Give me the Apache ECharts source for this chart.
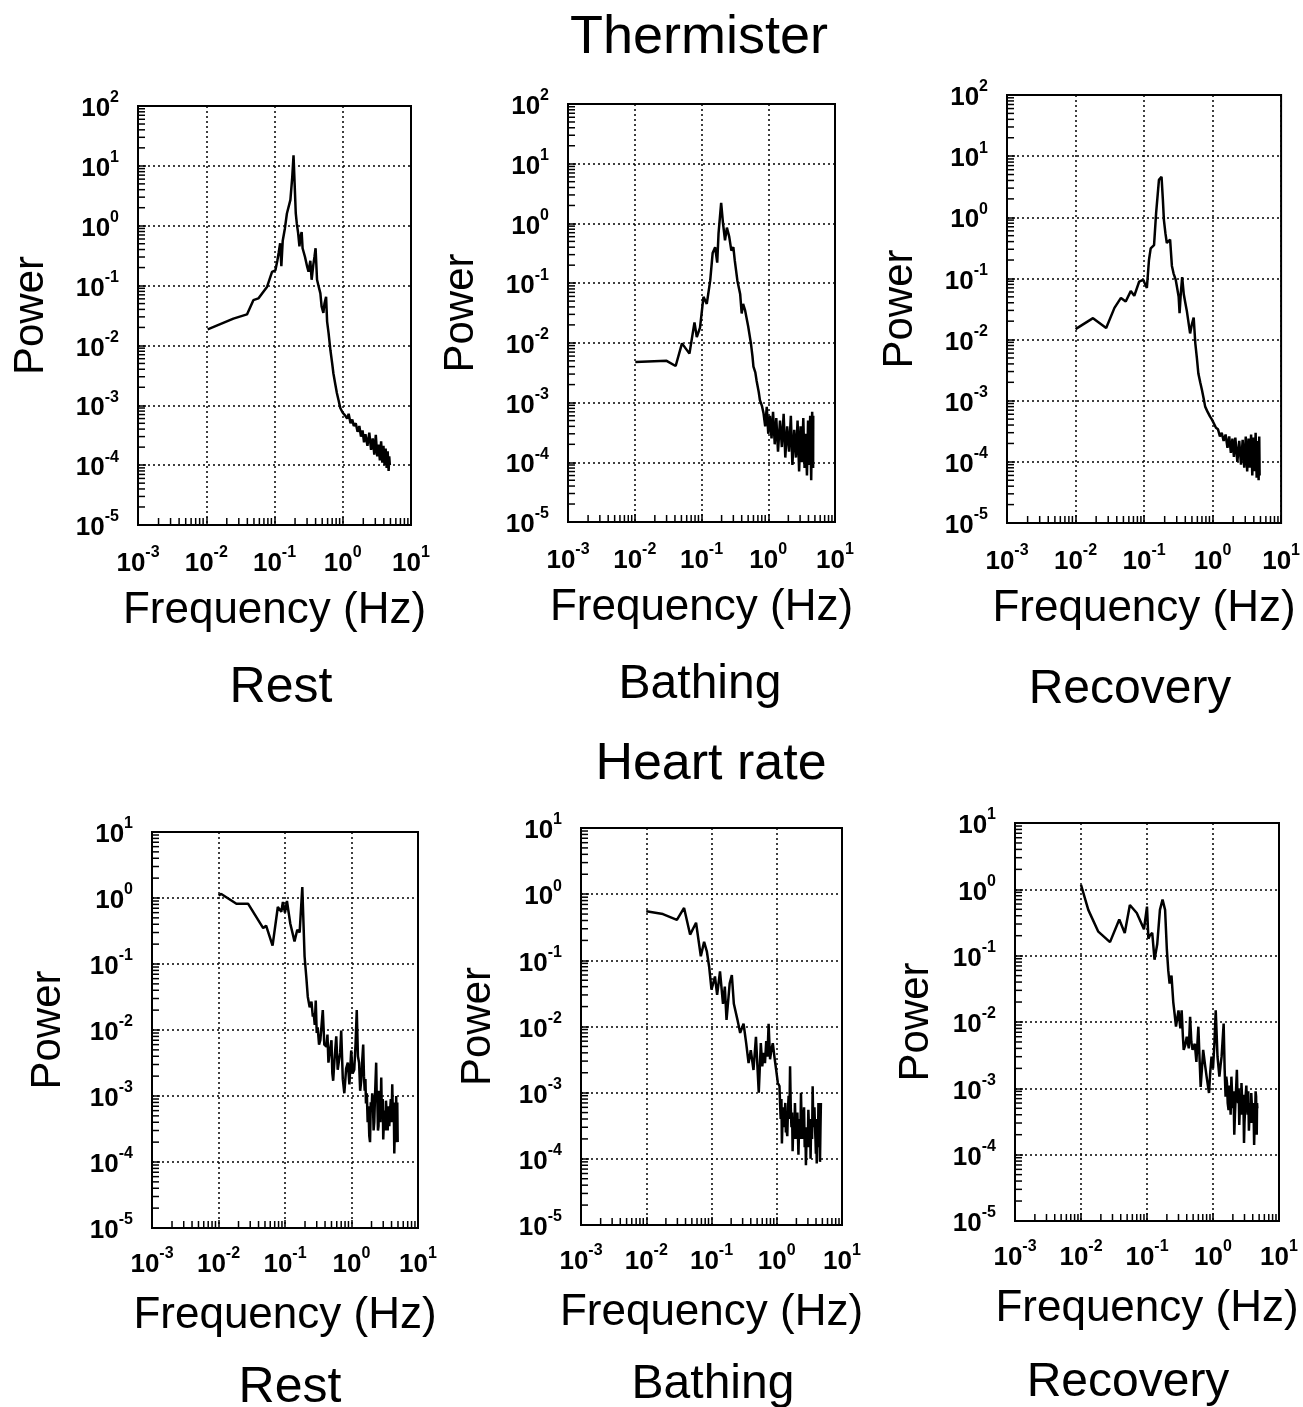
<!DOCTYPE html>
<html>
<head>
<meta charset="utf-8">
<script src="https://cdn.jsdelivr.net/npm/echarts@6/dist/echarts.min.js"></script>
<style>
  html, body { margin: 0; padding: 0; background: #fff; }
  #chart { width: 1303px; height: 1407px; }
</style>
</head>
<body>
<div id="chart"></div>
<script>
// power spectra, [frequency Hz, power]
const thermRest = [[0.0105,0.0186],[0.025,0.028],[0.0395,0.033],[0.049,0.057],[0.058,0.061],[0.078,0.096],[0.092,0.17],[0.103,0.18],[0.11,0.26],[0.115,0.35],[0.121,0.51],[0.126,0.21],[0.132,0.56],[0.142,0.9],[0.152,1.6],[0.171,2.7],[0.182,6.5],[0.19,15],[0.197,5.2],[0.205,1.6],[0.212,1.1],[0.222,0.75],[0.232,0.45],[0.24,0.66],[0.25,0.78],[0.258,0.42],[0.265,0.4],[0.28,0.3],[0.3,0.21],[0.315,0.17],[0.335,0.26],[0.35,0.125],[0.37,0.22],[0.385,0.3],[0.4,0.42],[0.42,0.125],[0.44,0.1],[0.47,0.074],[0.49,0.045],[0.52,0.035],[0.54,0.05],[0.57,0.065],[0.59,0.025],[0.62,0.016],[0.66,0.0083],[0.7,0.005],[0.73,0.0034],[0.78,0.0022],[0.82,0.0016],[0.87,0.0012],[0.92,0.0009],[1.0,0.00075],[1.08,0.00068],[1.16,0.0006],[1.22,0.00072],[1.3,0.0005],[1.38,0.00058],[1.45,0.00045],[1.55,0.0005],[1.65,0.00036],[1.75,0.00045],[1.85,0.0003],[1.95,0.00038],[2.05,0.00024],[2.15,0.00033],[2.3,0.00021],[2.45,0.00035],[2.6,0.00018],[2.75,0.00028],[2.9,0.00015],[3.05,0.00032],[3.2,0.00014],[3.35,0.00022],[3.5,0.00012],[3.65,0.00025],[3.8,0.00011],[3.95,0.00021],[4.1,0.0001],[4.25,0.00019],[4.4,0.00009],[4.55,0.00017],[4.7,0.00008],[4.8,0.00014],[4.9,0.0001]];
const thermBath = [[0.0102,0.0048],[0.03,0.005],[0.041,0.0041],[0.051,0.0098],[0.066,0.0066],[0.0785,0.022],[0.085,0.0125],[0.095,0.018],[0.107,0.059],[0.12,0.045],[0.135,0.11],[0.147,0.32],[0.16,0.4],[0.172,0.22],[0.18,0.68],[0.197,2.2],[0.21,1.0],[0.225,0.52],[0.24,0.85],[0.26,0.6],[0.28,0.35],[0.3,0.4],[0.315,0.24],[0.345,0.11],[0.38,0.065],[0.4,0.031],[0.42,0.045],[0.45,0.035],[0.5,0.019],[0.55,0.0098],[0.58,0.006],[0.6,0.004],[0.64,0.0032],[0.67,0.0023],[0.72,0.0015],[0.75,0.0011],[0.8,0.0009],[0.85,0.00066],[0.9,0.0004],[0.95,0.00085],[1.0,0.0003],[1.06,0.0006],[1.12,0.00025],[1.18,0.0007],[1.25,0.0002],[1.32,0.00055],[1.4,0.00015],[1.5,0.0005],[1.6,0.00018],[1.7,0.00065],[1.8,0.00012],[1.92,0.0004],[2.05,0.00015],[2.18,0.0006],[2.3,0.00009],[2.45,0.00035],[2.6,0.00012],[2.75,0.0005],[2.9,0.00007],[3.05,0.0004],[3.2,0.0001],[3.35,0.00055],[3.5,0.00008],[3.65,0.0003],[3.8,0.00006],[3.95,0.0005],[4.1,0.00009],[4.25,0.0006],[4.4,0.00005],[4.55,0.0007],[4.7,0.00008],[4.72,0.0006]];
const thermRec = [[0.01,0.0148],[0.018,0.0224],[0.028,0.0155],[0.037,0.033],[0.046,0.048],[0.054,0.042],[0.064,0.062],[0.072,0.052],[0.085,0.089],[0.097,0.095],[0.11,0.07],[0.118,0.2],[0.125,0.31],[0.14,0.35],[0.15,1.17],[0.165,4.1],[0.18,4.6],[0.188,2.0],[0.195,0.9],[0.205,0.55],[0.215,0.38],[0.24,0.43],[0.255,0.16],[0.27,0.12],[0.29,0.095],[0.32,0.05],[0.33,0.027],[0.345,0.06],[0.36,0.105],[0.38,0.055],[0.4,0.04],[0.42,0.03],[0.44,0.021],[0.47,0.0126],[0.5,0.018],[0.53,0.023],[0.56,0.0087],[0.59,0.005],[0.62,0.0028],[0.66,0.002],[0.7,0.0015],[0.74,0.0011],[0.78,0.0008],[0.85,0.00065],[0.92,0.00055],[0.98,0.00049],[1.05,0.00042],[1.12,0.00036],[1.2,0.00034],[1.28,0.00026],[1.36,0.0003],[1.45,0.00022],[1.55,0.00028],[1.65,0.00017],[1.75,0.00026],[1.85,0.00014],[1.95,0.00024],[2.05,0.00012],[2.15,0.00025],[2.3,0.0001],[2.45,0.00022],[2.6,0.00009],[2.75,0.00023],[2.9,0.00008],[3.05,0.00026],[3.2,0.00007],[3.35,0.00024],[3.5,0.00008],[3.65,0.00028],[3.8,0.00006],[3.95,0.00025],[4.1,0.00007],[4.25,0.0003],[4.4,0.000055],[4.55,0.00022],[4.7,0.00005],[4.8,0.00026],[4.86,0.00006]];
const hrRest = [[0.01,1.1],[0.011,1.15],[0.0186,0.82],[0.0278,0.82],[0.047,0.35],[0.052,0.38],[0.065,0.19],[0.078,0.73],[0.088,0.62],[0.093,0.87],[0.1,0.6],[0.107,0.9],[0.12,0.41],[0.139,0.22],[0.153,0.33],[0.166,0.3],[0.182,1.47],[0.197,0.13],[0.21,0.06],[0.22,0.032],[0.235,0.022],[0.25,0.027],[0.262,0.016],[0.27,0.018],[0.28,0.012],[0.29,0.028],[0.3,0.009],[0.31,0.011],[0.325,0.006],[0.34,0.007],[0.355,0.012],[0.37,0.02],[0.39,0.006],[0.42,0.0056],[0.435,0.0085],[0.45,0.0032],[0.475,0.005],[0.5,0.007],[0.515,0.0022],[0.53,0.0017],[0.56,0.004],[0.59,0.008],[0.62,0.0025],[0.65,0.0035],[0.675,0.0045],[0.7,0.0098],[0.74,0.0018],[0.78,0.0011],[0.83,0.0026],[0.88,0.0032],[0.93,0.0015],[0.99,0.0049],[1.04,0.0022],[1.1,0.0025],[1.15,0.006],[1.2,0.02],[1.25,0.004],[1.3,0.0032],[1.35,0.0012],[1.4,0.0017],[1.45,0.0035],[1.5,0.006],[1.54,0.002],[1.58,0.0012],[1.62,0.0018],[1.65,0.00077],[1.7,0.0011],[1.75,0.0004],[1.8,0.0007],[1.85,0.00025],[1.9,0.0002],[1.95,0.0008],[2.0,0.0006],[2.05,0.0011],[2.1,0.00077],[2.15,0.0003],[2.2,0.0004],[2.27,0.0012],[2.35,0.0032],[2.4,0.0009],[2.45,0.0008],[2.5,0.0003],[2.55,0.00035],[2.6,0.0012],[2.65,0.0009],[2.72,0.0004],[2.8,0.0019],[2.85,0.0007],[2.9,0.0005],[2.95,0.0009],[3.0,0.00022],[3.07,0.0004],[3.15,0.0006],[3.22,0.0003],[3.3,0.00085],[3.4,0.0005],[3.5,0.0003],[3.6,0.0007],[3.7,0.00035],[3.8,0.0006],[3.9,0.0009],[4.0,0.0004],[4.1,0.0015],[4.18,0.0006],[4.25,0.0004],[4.32,0.0008],[4.4,0.000135],[4.48,0.0003],[4.55,0.0006],[4.62,0.0002],[4.7,0.001],[4.75,0.0004],[4.8,0.0003],[4.88,0.0008],[4.95,0.0002]];
const hrBath = [[0.01,0.55],[0.018,0.5],[0.0295,0.41],[0.038,0.62],[0.047,0.245],[0.058,0.37],[0.0686,0.115],[0.077,0.19],[0.085,0.135],[0.092,0.08],[0.1,0.036],[0.113,0.057],[0.122,0.03],[0.135,0.068],[0.15,0.022],[0.16,0.04],[0.17,0.0126],[0.19,0.045],[0.205,0.06],[0.22,0.022],[0.25,0.0126],[0.275,0.008],[0.31,0.011],[0.34,0.0056],[0.37,0.0028],[0.4,0.0044],[0.44,0.0022],[0.48,0.007],[0.53,0.001],[0.57,0.0056],[0.6,0.0025],[0.63,0.004],[0.66,0.0028],[0.69,0.006],[0.72,0.0035],[0.75,0.011],[0.79,0.0032],[0.83,0.0045],[0.87,0.0056],[0.92,0.0035],[0.98,0.0022],[1.04,0.0014],[1.1,0.00126],[1.13,0.0006],[1.15,0.0004],[1.18,0.0008],[1.2,0.00017],[1.24,0.0006],[1.27,0.0005],[1.31,0.0003],[1.35,0.0007],[1.38,0.00025],[1.4,0.0003],[1.45,0.00022],[1.49,0.0006],[1.52,0.0009],[1.56,0.0004],[1.6,0.0025],[1.64,0.0006],[1.68,0.0003],[1.72,0.0005],[1.75,0.00013],[1.79,0.0003],[1.82,0.0004],[1.86,0.0002],[1.9,0.0007],[1.95,0.0003],[2.0,0.0002],[2.07,0.0005],[2.15,0.000115],[2.2,0.0003],[2.25,0.0004],[2.3,0.0002],[2.35,0.001],[2.4,0.0004],[2.45,0.0002],[2.5,0.0005],[2.55,0.00036],[2.62,0.0006],[2.68,0.00015],[2.74,0.0003],[2.8,0.00008],[2.86,0.0002],[2.92,0.0003],[2.98,0.00015],[3.05,0.00055],[3.12,0.0003],[3.18,0.00015],[3.24,0.0004],[3.3,0.0001],[3.36,0.0003],[3.42,0.0004],[3.48,0.0002],[3.55,0.00125],[3.62,0.0004],[3.7,0.0003],[3.78,0.0006],[3.85,0.00032],[3.92,0.0002],[3.98,0.00012],[4.04,0.0004],[4.1,0.000085],[4.16,0.0002],[4.22,0.0003],[4.28,0.00015],[4.35,0.0007],[4.42,0.0003],[4.48,0.0002],[4.54,0.0004],[4.6,0.00009],[4.68,0.0003],[4.75,0.0007]];
const hrRec = [[0.01,1.17],[0.0129,0.49],[0.0183,0.23],[0.0275,0.16],[0.038,0.35],[0.046,0.22],[0.055,0.58],[0.07,0.44],[0.09,0.25],[0.1,0.55],[0.105,0.18],[0.11,0.2],[0.12,0.22],[0.13,0.087],[0.143,0.15],[0.157,0.49],[0.172,0.7],[0.188,0.49],[0.2,0.123],[0.21,0.06],[0.22,0.038],[0.235,0.05],[0.25,0.02],[0.265,0.012],[0.275,0.0085],[0.3,0.015],[0.32,0.008],[0.335,0.015],[0.35,0.006],[0.36,0.0038],[0.38,0.0045],[0.4,0.006],[0.43,0.004],[0.45,0.012],[0.47,0.005],[0.49,0.0038],[0.53,0.0047],[0.56,0.0025],[0.6,0.0085],[0.65,0.00105],[0.68,0.002],[0.71,0.0038],[0.76,0.0022],[0.8,0.0015],[0.87,0.00085],[0.91,0.0018],[0.95,0.003],[1.0,0.002],[1.05,0.0047],[1.1,0.015],[1.17,0.003],[1.25,0.0015],[1.3,0.0022],[1.35,0.003],[1.45,0.0095],[1.5,0.002],[1.55,0.00075],[1.59,0.0015],[1.63,0.0012],[1.67,0.0006],[1.72,0.00047],[1.76,0.0011],[1.8,0.0009],[1.85,0.0004],[1.9,0.0015],[1.95,0.0008],[2.0,0.0005],[2.05,0.0009],[2.1,0.0002],[2.15,0.0004],[2.2,0.0007],[2.25,0.0011],[2.3,0.0019],[2.35,0.0008],[2.4,0.0006],[2.45,0.001],[2.5,0.00028],[2.55,0.0005],[2.6,0.0008],[2.65,0.0004],[2.7,0.0012],[2.76,0.0007],[2.82,0.0004],[2.88,0.0008],[2.95,0.00015],[3.0,0.0003],[3.07,0.0005],[3.13,0.0008],[3.2,0.0011],[3.27,0.0006],[3.35,0.0004],[3.42,0.0009],[3.5,0.00023],[3.57,0.0004],[3.65,0.0006],[3.72,0.0003],[3.8,0.00085],[3.9,0.0005],[4.0,0.0003],[4.1,0.0006],[4.2,0.00014],[4.27,0.0003],[4.35,0.0004],[4.42,0.0009],[4.5,0.00075],[4.55,0.0003],[4.6,0.0002],[4.65,0.0006],[4.7,0.0005]];

// axis ranges (decades)
const freqRange = [-3, 1];
const thermPowerRange = [-5, 2];
const hrPowerRange = [-5, 1];

const FONT = '"Liberation Sans", Arial, Helvetica, sans-serif';

// panel boxes, in pixels
const panels = [
    { data: thermRest, pr: thermPowerRange, left: 138, top: 106, width: 273, height: 419, yGap: 86, xGap: 64, xMargin: 20 },
    { data: thermBath, pr: thermPowerRange, left: 568, top: 104, width: 267, height: 418, yGap: 86, xGap: 64, xMargin: 20 },
    { data: thermRec, pr: thermPowerRange, left: 1007, top: 95, width: 276, height: 428, yGap: 86, xGap: 64, xMargin: 20 },
    { data: hrRest, pr: hrPowerRange, left: 152, top: 832, width: 266, height: 396, yGap: 83, xGap: 66, xMargin: 18 },
    { data: hrBath, pr: hrPowerRange, left: 581, top: 828, width: 261, height: 397, yGap: 82, xGap: 66, xMargin: 18 },
    { data: hrRec, pr: hrPowerRange, left: 1015, top: 823, width: 264, height: 398, yGap: 78, xGap: 66, xMargin: 18 }
]

const minorValues = (lo, hi) => {
    const out = []
    for (let k = lo; k < hi; k++) {
        for (let m = 2; m <= 9; m++) out.push(m * Math.pow(10, k))
    }
    return out
}

const powLabel = (v) => {
    const e = Math.round(Math.log10(v))
    return '{b|10}{s|' + e + '}'
}
const labelRich = {
    b: { fontFamily: FONT, fontSize: 26, fontWeight: 'bold', color: '#000', lineHeight: 32, verticalAlign: 'bottom' },
    s: { fontFamily: FONT, fontSize: 16, fontWeight: 'bold', color: '#000', lineHeight: 32, verticalAlign: 'top' }
}

const grid = [], xAxis = [], yAxis = [], series = []
panels.forEach((p, i) => {
    const xMin = Math.pow(10, freqRange[0]), xMax = Math.pow(10, freqRange[1])
    const yMin = Math.pow(10, p.pr[0]), yMax = Math.pow(10, p.pr[1])
    grid.push({ left: p.left, top: p.top, width: p.width, height: p.height, show: true, borderColor: '#000', borderWidth: 2, backgroundColor: 'transparent' })
    xAxis.push({
        type: 'log', logBase: 10, gridIndex: i, min: xMin, max: xMax, interval: 1, splitNumber: 4,
        name: 'Frequency (Hz)', nameLocation: 'middle', nameGap: p.xGap,
        nameTextStyle: { fontFamily: FONT, fontSize: 44, color: '#000' },
        axisLine: { show: true, onZero: false, lineStyle: { color: '#000', width: 2 } },
        axisTick: { show: true, inside: true, length: 8, lineStyle: { color: '#000', width: 1.5 } },
        axisLabel: { margin: p.xMargin, formatter: powLabel, rich: labelRich },
        splitLine: { show: true, lineStyle: { color: '#000', width: 1.5, type: [2, 3] } }
    })
    yAxis.push({
        type: 'log', logBase: 10, gridIndex: i, min: yMin, max: yMax, interval: 1, splitNumber: p.pr[1] - p.pr[0],
        name: 'Power', nameLocation: 'middle', nameGap: p.yGap,
        nameTextStyle: { fontFamily: FONT, fontSize: 42, color: '#000' },
        axisLine: { show: true, onZero: false, lineStyle: { color: '#000', width: 2 } },
        axisTick: { show: true, inside: true, length: 8, lineStyle: { color: '#000', width: 1.5 } },
        axisLabel: { margin: 19, formatter: powLabel, rich: labelRich },
        splitLine: { show: true, lineStyle: { color: '#000', width: 1.5, type: [2, 3] } }
    })
    series.push({
        type: 'line', xAxisIndex: i, yAxisIndex: i, data: p.data,
        showSymbol: false, symbol: 'none', animation: false, z: 4,
        lineStyle: { color: '#000', width: 2.5 }
    })
    // log-spaced minor ticks, inside the box on bottom and left
    const ticks = []
    minorValues(freqRange[0], freqRange[1]).forEach(v => ticks.push([v, yMin, 0]))
    minorValues(p.pr[0], p.pr[1]).forEach(v => ticks.push([xMin, v, 1]))
    series.push({
        type: 'custom', xAxisIndex: i, yAxisIndex: i, data: ticks, silent: true, animation: false, clip: false, z: 5,
        encode: { x: 0, y: 1 },
        renderItem: (params, api) => {
            const pt = api.coord([api.value(0), api.value(1)])
            const vertical = api.value(2) === 0
            return {
                type: 'line',
                shape: vertical
                    ? { x1: pt[0], y1: pt[1], x2: pt[0], y2: pt[1] - 7 }
                    : { x1: pt[0], y1: pt[1], x2: pt[0] + 7, y2: pt[1] },
                style: { stroke: '#000', lineWidth: 1.5 }
            }
        }
    })
})

const text = (str, x, y, size) => ({
    type: 'text', x: x, y: y,
    style: { text: str, fontFamily: FONT, fontSize: size, fill: '#000', textAlign: 'center', textVerticalAlign: 'middle' }
})

const option = {
    backgroundColor: '#fff',
    animation: false,
    grid: grid,
    xAxis: xAxis,
    yAxis: yAxis,
    series: series,
    graphic: [
        text('Thermister', 699, 38, 54),
        text('Heart rate', 711, 765, 52),
        text('Rest', 281, 688, 50),
        text('Bathing', 700, 685, 48),
        text('Recovery', 1130, 690, 48),
        text('Rest', 290, 1388, 50),
        text('Bathing', 713, 1385, 48),
        text('Recovery', 1128, 1383, 48)
    ]
}

const myChart = echarts.init(document.getElementById('chart'), null, { renderer: 'canvas' })
myChart.setOption(option)
</script>
</body>
</html>
